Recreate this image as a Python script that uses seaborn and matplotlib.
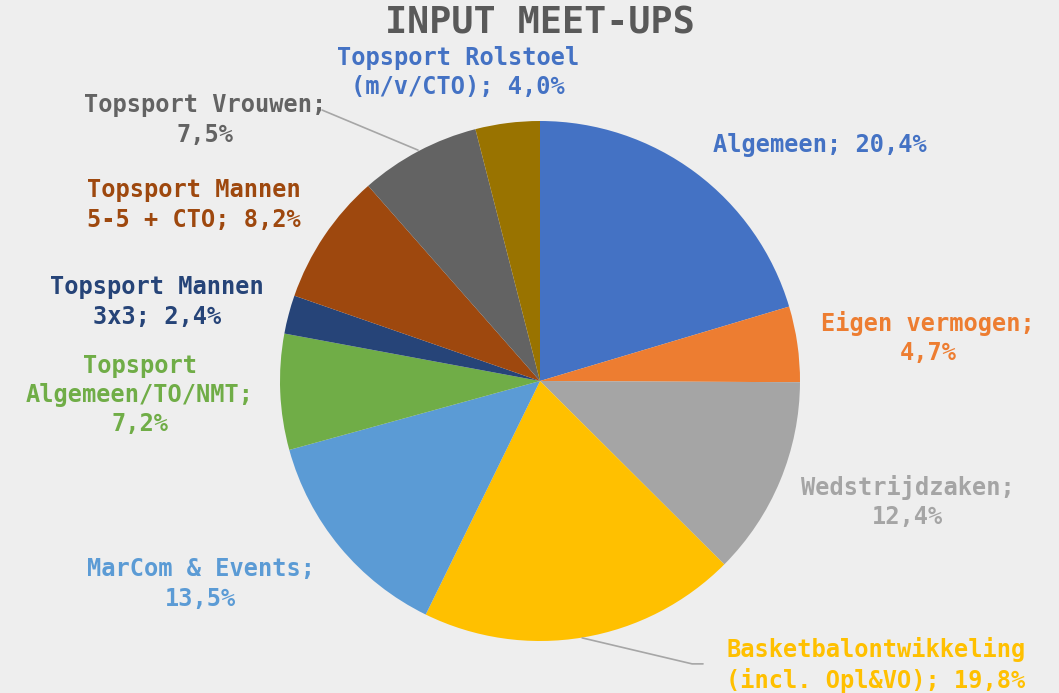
import matplotlib.pyplot as plt
import seaborn as sns

sns.set_theme(style="white")
plt.rcParams['font.family'] = ['DejaVu Sans Mono', 'DejaVu Sans']

categories = ['Algemeen', 'Eigen vermogen', 'Wedstrijdzaken',
              'Basketbalontwikkeling\n(incl. Opl&VO)', 'MarCom & Events',
              'Topsport\nAlgemeen/TO/NMT', 'Topsport Mannen\n3x3',
              'Topsport Mannen\n5-5 + CTO', 'Topsport Vrouwen',
              'Topsport Rolstoel\n(m/v/CTO)']
values = [20.4, 4.7, 12.4, 19.8, 13.5, 7.2, 2.4, 8.2, 7.5, 4.0]
seps = ['; ', ';\n', ';\n', '; ', ';\n', ';\n', '; ', '; ', ';\n', '; ']

colors = ['#4472C4', '#ED7D31', '#A5A5A5', '#FFC000', '#5B9BD5',
          '#70AD47', '#264478', '#9E480E', '#636363', '#997300']
label_colors = ['#4472C4', '#ED7D31', '#A5A5A5', '#FFC000', '#5B9BD5',
                '#70AD47', '#264478', '#9E480E', '#636363', '#4472C4']
label_pos = [(1.077, 0.908), (1.492, 0.165), (1.415, -0.465), (1.292, -1.092),
             (-1.304, -0.781), (-1.538, -0.054), (-1.473, 0.304),
             (-1.331, 0.677), (-1.288, 1.004), (-0.315, 1.188)]

bg = '#eeeeee'
fig = plt.figure(figsize=(10.59, 6.93), dpi=100, facecolor=bg)
ax = fig.add_axes([0, 0, 1, 1])
ax.set_facecolor(bg)

ax.pie(values, colors=colors, startangle=90, counterclock=False, radius=1,
       wedgeprops={'linewidth': 0})

for name, v, s, c, (x, y) in zip(categories, values, seps, label_colors, label_pos):
    pct = f"{v:.1f}%".replace('.', ',')
    ax.text(x, y, name + s + pct, color=c, fontsize=17, fontweight='bold',
            ha='center', va='center', linespacing=1.27)

# leader lines
ax.plot([-0.838, -0.469], [1.042, 0.888], color='#a6a6a6', lw=1.2)
ax.plot([0.162, 0.585, 0.627], [-0.988, -1.088, -1.088], color='#a6a6a6', lw=1.2)

ax.text(0, 1.375, 'INPUT MEET-UPS', color='#595959', fontsize=26.5,
        fontweight='bold', ha='center', va='center')

ax.set_xlim(-540 / 260, 519 / 260)
ax.set_ylim(-312 / 260, 381 / 260)
ax.set_aspect('auto')
ax.axis('off')

fig.savefig('out.png', dpi=100, facecolor=bg)
